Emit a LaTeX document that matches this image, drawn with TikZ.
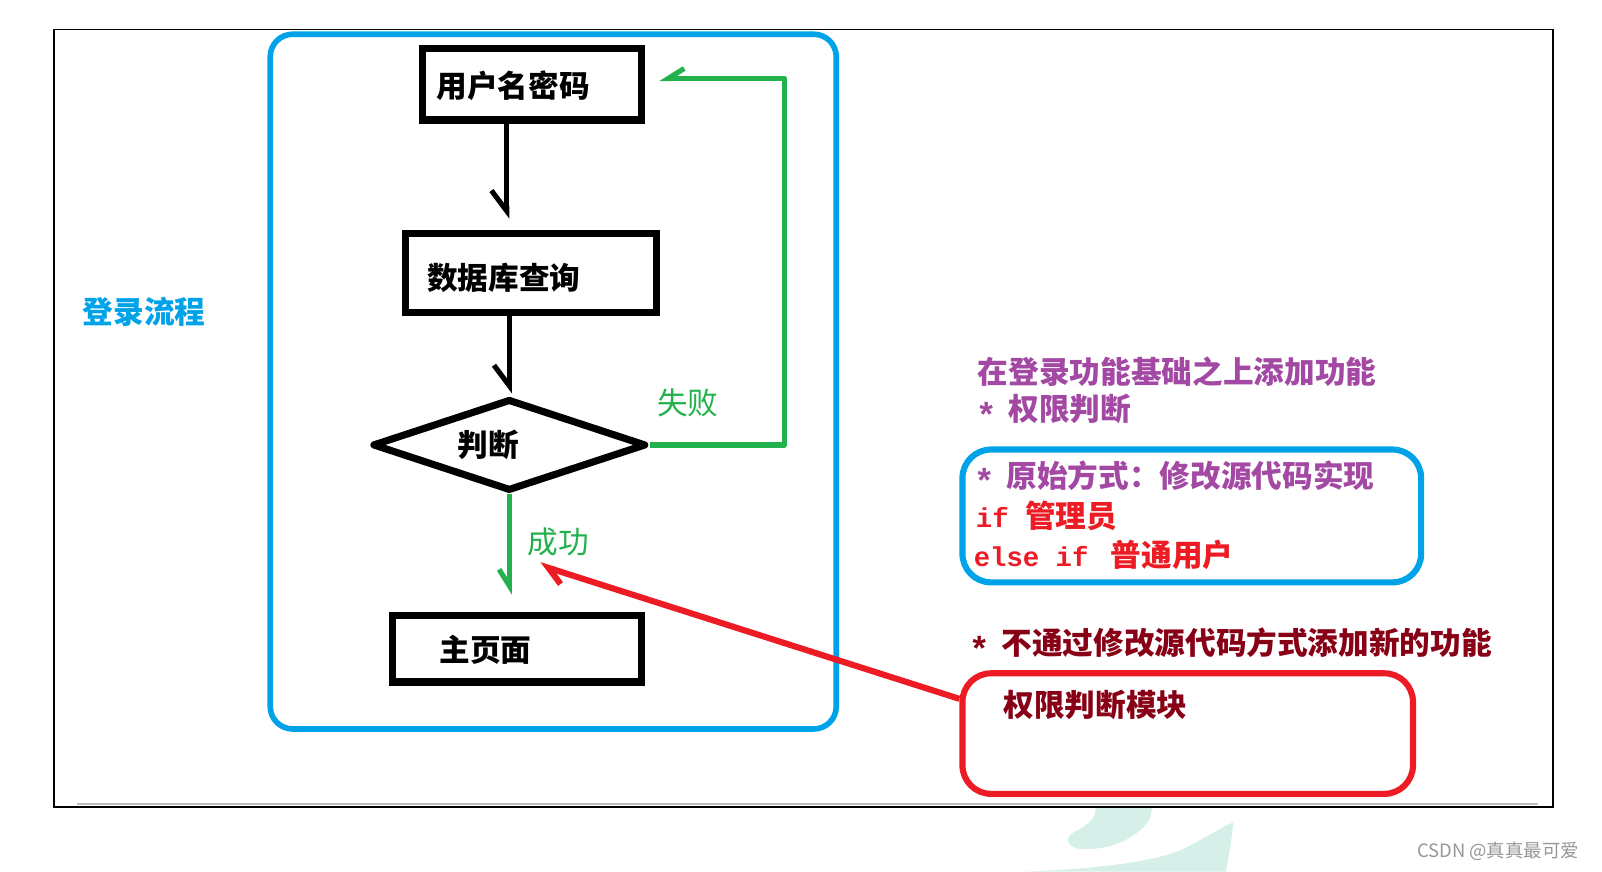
\documentclass[tikz,border=0pt]{standalone}
\usepackage{fontspec}
\setmainfont{Noto Sans CJK SC}
\newfontfamily\cjk{Noto Sans CJK SC}
\newfontfamily\monofnt{Liberation Mono}
\usetikzlibrary{arrows.meta,shapes.geometric}
\definecolor{pblue}{RGB}{0,162,232}
\definecolor{pgreen}{RGB}{34,177,76}
\definecolor{pred}{RGB}{237,28,36}
\definecolor{ppurple}{RGB}{163,73,164}
\definecolor{pdark}{RGB}{136,0,21}
\definecolor{mint}{RGB}{214,240,233}
\definecolor{wmgray}{RGB}{150,150,150}
\newcommand\monotxt[1]{{\monofnt\bfseries\fontsize{26.7pt}{30pt}\selectfont #1}}
\newcommand\starmark{\makebox[32pt][l]{\monofnt\bfseries\fontsize{34pt}{30pt}\selectfont\raisebox{-0.18em}{*}}}
\begin{document}
\begin{tikzpicture}[x=1pt,y=-1pt,
  txt/.style={anchor=west, inner sep=0pt, font=\cjk\fontsize{30pt}{30pt}\selectfont},
  btxt/.style={anchor=west, inner sep=0pt, font=\cjk\bfseries\fontsize{30pt}{30pt}\selectfont},
  kbox/.style={draw=black, line width=7pt, inner sep=0pt},
  bluebox/.style={draw=pblue, line width=5.5pt, rounded corners=22pt, inner sep=0pt},
  bluebox2/.style={draw=pblue, line width=6pt, rounded corners=28pt, inner sep=0pt},
  redbox/.style={draw=pred, line width=6pt, rounded corners=28pt, inner sep=0pt},
  framebox/.style={draw=black, line width=1.5pt, inner sep=0pt},
  karr/.style={draw=black, line width=5pt, -{Straight Barb[right,length=20pt,width=30pt]}},
  garr/.style={draw=pgreen, line width=5pt, line join=round, -{Straight Barb[right,length=16pt,width=20pt]}},
  rarr/.style={draw=pred, line width=6pt, -{Straight Barb[left,length=16pt,width=23pt]}}
]
\useasboundingbox (0,0) rectangle (1568,853);

% watermark fragments
\begin{scope}
\clip (0,791) rectangle (1568,853);
\fill[mint] (1068,780) .. controls (1078,795) and (1070,805) .. (1052,814)
  .. controls (1040,820) and (1045,831) .. (1060,831)
  .. controls (1085,832) and (1110,822) .. (1123,805)
  .. controls (1128,797) and (1128,788) .. (1127,780) -- cycle;
\fill[mint] (1005,853) .. controls (1060,851) and (1130,845) .. (1160,830)
  .. controls (1180,820) and (1198,808) .. (1207,805)
  .. controls (1206,820) and (1202,840) .. (1200,853) -- cycle;
\end{scope}

% outer frame
\node[framebox, minimum width=1467pt, minimum height=761pt] (frame) at (786.5,409.5) {};
\draw[black!25, line width=2pt] (75,787) -- (1505,787);

% flow chart container
\node[bluebox, minimum width=554pt, minimum height=680pt] (big) at (541.5,373.5) {};
\node[txt, text=pblue, font=\cjk\bfseries\fontsize{30pt}{30pt}\selectfont] (title) at (81,305) {登录流程};

% boxes
\node[kbox, minimum width=214pt, minimum height=70pt] (b1) at (520.5,82.5) {};
\node[btxt] (t1) at (427,84) {用户名密码};
\node[kbox, minimum width=246pt, minimum height=77pt] (b2) at (519.5,267) {};
\node[btxt] (t2) at (418,272) {数据库查询};
\node[diamond, draw=black, line width=7pt, line join=round, minimum width=268pt, minimum height=90pt, inner sep=0pt] (d) at (498.5,435.5) {};
\node[btxt] (t3) at (448,435) {判断};
\node[kbox, minimum width=243pt, minimum height=65pt] (b3) at (506,635) {};
\node[btxt] (t4) at (430,636) {主页面};

% connectors
\coordinate (ax1) at (496,0);
\coordinate (ax2) at (498.5,0);
\coordinate (gup) at (768,77);
\draw[karr, shorten >=11pt] (b1.south -| ax1) -- (b2.north -| ax1);
\draw[karr, shorten >=2pt] (b2.south -| ax2) -- (d.north);
\draw[garr, shorten >=14pt] (d.east) -| (gup) -- (b1.east |- gup);
\draw[garr, shorten >=17pt] (d.south) -- (d.south |- b3.north);
\node[txt, text=pgreen] (fail) at (643,394) {失败};
\node[txt, text=pgreen] (ok) at (516,530) {成功};

% right side
\node[btxt, text=ppurple] (r1) at (957,364) {在登录功能基础之上添加功能};
\node[btxt, text=ppurple] (r2) at (955,402) {\starmark 权限判断};
\node[bluebox2, minimum width=449pt, minimum height=130pt] (bb) at (1166.5,505) {};
\node[btxt, text=ppurple] (r3) at (953,467) {\starmark 原始方式：修改源代码实现};
\node[btxt, text=pred] (r4) at (955,505) {\monotxt{if\ }管理员};
\node[btxt, text=pred] (r5) at (953,543) {\monotxt{else\ if\ }\hspace{6pt}普通用户};
\node[btxt, text=pdark] (r6) at (948,631) {\starmark 不通过修改源代码方式添加新的功能};
\node[redbox, minimum width=441pt, minimum height=118pt] (rb) at (1162.5,718) {};
\node[btxt, text=pdark] (r7) at (982,690) {权限判断模块};
\coordinate (rtip) at (528,553);
\draw[rarr] ([yshift=34pt]rb.west) -- (rtip);

% watermark text
\node[anchor=west, inner sep=0pt, text=wmgray, font=\cjk\fontsize{18pt}{18pt}\selectfont] (wm) at (1387,833) {CSDN @真真最可爱};
\end{tikzpicture}
\end{document}
